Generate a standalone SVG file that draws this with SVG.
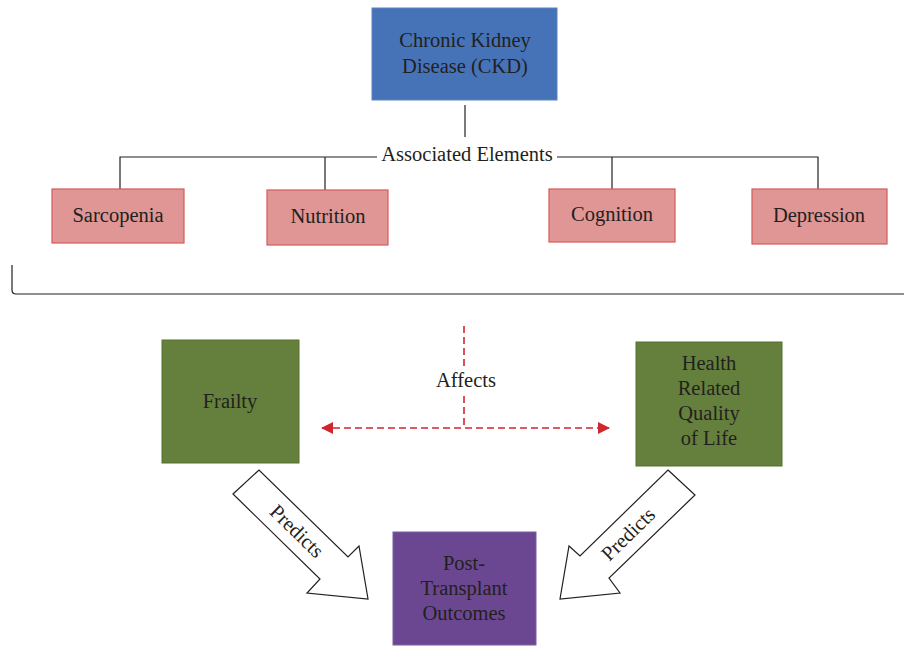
<svg xmlns="http://www.w3.org/2000/svg" width="904" height="646" viewBox="0 0 904 646">
<defs>
<style>
text{font-family:"Liberation Serif","Times New Roman",serif;font-size:20.5px;fill:#231f20;text-anchor:middle}
.blue{fill:#4673b8;stroke:#5b82bf;stroke-width:1}
.pink{fill:#df9695;stroke:#d65a59;stroke-width:1.2}
.green{fill:#64803c;stroke:#55702f;stroke-width:1}
.purple{fill:#6a4790;stroke:#7d5ca6;stroke-width:1}
.line{fill:none;stroke:#231f20;stroke-width:1.2}
.dash{fill:none;stroke:#d0262f;stroke-width:1.6;stroke-dasharray:7,4}
.block{fill:#fff;stroke:#231f20;stroke-width:1.2;stroke-linejoin:miter}
</style>
<marker id="ah" viewBox="0 0 12 12" refX="11" refY="6" markerWidth="12" markerHeight="12" markerUnits="userSpaceOnUse" orient="auto-start-reverse">
<path d="M0,0 L12,6 L0,12 z" fill="#d0262f"/>
</marker>
</defs>
<g id="connectors">
<path class="line" d="M465,105 V137"/>
<path class="line" d="M377,157 H120 V189 M325,157 V190"/>
<path class="line" d="M557,157 H818 V189 M612,157 V189"/>
<path class="line" d="M12,265 V290 Q12,294 16,294 H904"/>
<path class="dash" d="M464,326 V367 M464,396 V428"/>
<path class="dash" d="M322,428 H609" marker-start="url(#ah)" marker-end="url(#ah)"/>
<text x="466" y="387">Affects</text>
<g id="arrow-left">
<polygon class="block" points="233,494 259,470 348,557 359,546 368,599 307,593 320,579"/>
<text transform="translate(297,531) rotate(44.3)" y="7">Predicts</text>
</g>
<g id="arrow-right">
<polygon class="block" points="668,470 695,495 609,578 620,593 560,599 569,546 580,556"/>
<text transform="translate(628,534) rotate(-44.3)" y="7">Predicts</text>
</g>
</g>
<g id="ckd">
<rect class="blue" x="372" y="8" width="185" height="92"/>
<text x="465" y="47">Chronic Kidney</text>
<text x="465" y="73">Disease (CKD)</text>
</g>
<text x="467" y="161">Associated Elements</text>
<g id="sarcopenia">
<rect class="pink" x="52" y="189" width="132" height="54"/>
<text x="118" y="222">Sarcopenia</text>
</g>
<g id="nutrition">
<rect class="pink" x="267" y="190" width="121" height="55"/>
<text x="328" y="223">Nutrition</text>
</g>
<g id="cognition">
<rect class="pink" x="549" y="189" width="126" height="53"/>
<text x="612" y="221">Cognition</text>
</g>
<g id="depression">
<rect class="pink" x="752" y="189" width="135" height="55"/>
<text x="819" y="222">Depression</text>
</g>
<g id="frailty">
<rect class="green" x="162" y="340" width="137" height="123"/>
<text x="230" y="408">Frailty</text>
</g>
<g id="hrqol">
<rect class="green" x="636" y="342" width="146" height="124"/>
<text x="709" y="370">Health</text>
<text x="709" y="395">Related</text>
<text x="709" y="420">Quality</text>
<text x="709" y="445">of Life</text>
</g>
<g id="outcomes">
<rect class="purple" x="393" y="532" width="143" height="113"/>
<text x="464" y="570">Post-</text>
<text x="464" y="595">Transplant</text>
<text x="464" y="620">Outcomes</text>
</g>
</svg>
